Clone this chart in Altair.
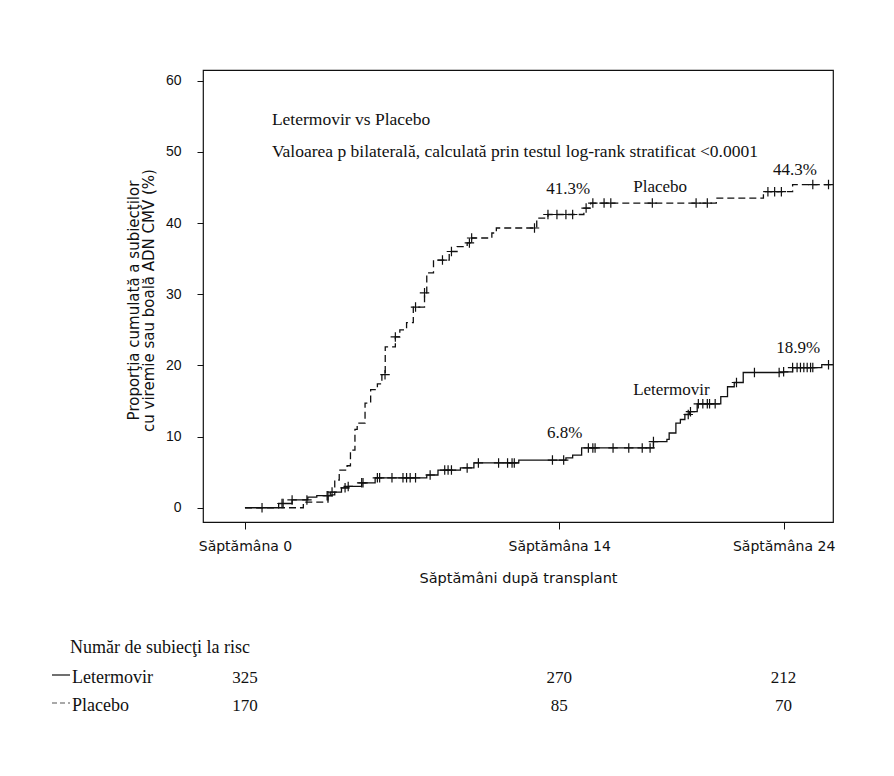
import altair as alt
import pandas as pd

# ---------------- data ----------------
# Letermovir cumulative incidence step curve (weeks after transplant, %)
let_weeks = [0, 1.5, 2.1, 2.8, 3.2, 3.8, 4.3, 4.6, 5.2, 5.8, 8.1, 8.6, 9.6, 10.2,
             12.2, 14.3, 14.6, 15.0, 18.2, 18.8, 18.9, 19.2, 19.4, 19.6, 19.8,
             20.15, 21.2, 21.5, 21.8, 22.2, 24.0, 24.4, 25.7, 26.2]
let_pct = [0, 0.6, 1.1, 1.5, 1.7, 2.2, 2.8, 3.0, 3.5, 4.2, 4.6, 5.3, 5.6, 6.3,
           6.7, 7.0, 7.4, 8.4, 9.3, 9.6, 10.5, 11.9, 12.4, 13.1, 13.5,
           14.6, 15.6, 17.0, 17.6, 19.0, 19.1, 19.7, 20.1, 20.1]

# Placebo cumulative incidence step curve
plc_weeks = [0, 2.6, 3.7, 4.0, 4.2, 4.55, 4.7, 4.9, 5.0, 5.35, 5.6, 5.9, 6.1,
             6.25, 6.7, 6.9, 7.2, 7.5, 8.0, 8.1, 8.4, 9.1, 9.45, 9.9, 10.1,
             11.0, 11.2, 13.0, 13.5, 15.1, 15.4, 21.0, 23.1, 24.4, 26.2]
plc_pct = [0, 0.8, 1.8, 3.9, 5.3, 5.9, 8.1, 11.0, 11.9, 14.7, 16.6, 17.4, 18.7,
           22.6, 24.0, 25.0, 26.0, 28.2, 30.2, 33.0, 34.8, 36.0, 36.7, 37.2, 37.9,
           38.6, 39.3, 40.7, 41.2, 42.1, 42.8, 43.5, 44.4, 45.4, 45.4]

# censoring times (weeks)
let_censor = [0.76, 1.65, 1.7, 2.1, 2.76, 3.66, 3.7, 3.88, 4.46, 4.6, 5.2, 5.26,
              5.9, 6.0, 6.55, 7.04, 7.2, 7.36, 7.6, 8.25, 8.9, 9.05, 9.2, 9.9,
              10.4, 11.3, 11.7, 11.9, 12.0, 13.7, 14.2, 15.3, 15.5, 15.6, 16.4,
              17.1, 17.7, 18.05, 18.2, 19.75, 19.85, 20.2, 20.4, 20.6, 20.7,
              20.95, 21.9, 22.7, 23.8, 24.0, 24.4, 24.6, 24.75, 24.9, 25.05,
              25.2, 25.3, 26.0]
plc_censor = [6.24, 6.7, 7.6, 8.0, 8.8, 9.2, 10.0, 10.1, 12.9, 13.5, 13.9, 14.3,
              14.6, 15.2, 15.5, 16.0, 16.3, 18.15, 20.1, 20.6, 23.3, 23.6, 23.9,
              25.3, 26.0]

# annotations
head_text = ["Letermovir vs Placebo",
             "Valoarea p bilaterală, calculată prin testul log-rank stratificat <0.0001"]
head_x = [1.2, 1.2]
head_y = [54.5, 50.0]

lab_text = ["41.3%", "Placebo", "44.3%", "18.9%", "Letermovir", "6.8%"]
lab_x = [14.4, 18.5, 24.5, 24.65, 19.0, 14.25]
lab_y = [44.8, 45.1, 47.5, 22.5, 16.6, 10.5]

# x ticks and number at risk
tick_weeks = [0, 14, 24]
risk_title = "Număr de subiecţi la risc"
risk_groups = ["Letermovir", "Placebo"]
let_risk = [325, 270, 212]
plc_risk = [170, 85, 70]

y_title = ["Proporţia cumulată a subiecţilor", "cu viremie sau boală ADN CMV (%)"]
x_title = "Săptămâni după transplant"

# ---------------- helpers ----------------
def step_value(xs, ys, t):
    v = ys[0]
    for a, b in zip(xs, ys):
        if a <= t:
            v = b
    return v

let_df = pd.DataFrame({"week": let_weeks, "pct": let_pct})
plc_df = pd.DataFrame({"week": plc_weeks, "pct": plc_pct})
let_c = pd.DataFrame({"week": let_censor,
                      "pct": [step_value(let_weeks, let_pct, t) for t in let_censor]})
plc_c = pd.DataFrame({"week": plc_censor,
                      "pct": [step_value(plc_weeks, plc_pct, t) for t in plc_censor]})
head_df = pd.DataFrame({"t": head_text, "week": head_x, "pct": head_y})
lab_df = pd.DataFrame({"t": lab_text, "week": lab_x, "pct": lab_y})
risk_let_df = pd.DataFrame({"week": tick_weeks, "n": let_risk})
risk_plc_df = pd.DataFrame({"week": tick_weeks, "n": plc_risk})

SANS = "Liberation Sans"
WIDE = "DejaVu Sans"
SERIF = "Liberation Serif"
INK = "#111111"

xscale = alt.Scale(domain=[-1.87, 26.2], nice=False, zero=False)
yscale = alt.Scale(domain=[-2, 61.5], nice=False, zero=False)
XE = alt.X("week:Q", scale=xscale)
YE = alt.Y("pct:Q", scale=yscale)

X = alt.X("week:Q", scale=xscale, axis=alt.Axis(
    values=tick_weeks, labelExpr="'Săptămâna ' + datum.value",
    title=x_title, grid=False, domain=False, tickSize=7, tickColor=INK,
    labelFont=WIDE, labelFontSize=14, labelColor=INK, labelPadding=10,
    labelFlush=False, labelOverlap=False,
    titleFont=WIDE, titleFontSize=14.5, titleFontWeight="normal", titleColor=INK,
    titlePadding=18))
Y = alt.Y("pct:Q", scale=yscale, axis=alt.Axis(
    values=[0, 10, 20, 30, 40, 50, 60], title=y_title, grid=False, domain=False,
    tickSize=6, tickColor=INK, labelFont=SANS, labelFontSize=14, labelColor=INK,
    labelPadding=16, titleFont=WIDE, titleFontSize=15, titleFontWeight="normal",
    titleColor=INK, titleX=-77, titleY=230, titleBaseline="top",
    titleAlign="center", titleLineHeight=15.5))

plus = "M-1,0L1,0M0,-1L0,1"

let_line = alt.Chart(let_df).mark_line(interpolate="step-after", color=INK,
                                       strokeWidth=1.3).encode(x=X, y=Y)
plc_line = alt.Chart(plc_df).mark_line(interpolate="step-after", color=INK,
                                       strokeWidth=1.3, strokeDash=[7, 4]).encode(
    x=XE, y=YE)
let_pts = alt.Chart(let_c).mark_point(shape=plus, size=90, color=INK, filled=False,
                                      strokeWidth=1.2, opacity=1).encode(x=XE, y=YE)
plc_pts = alt.Chart(plc_c).mark_point(shape=plus, size=90, color=INK, filled=False,
                                      strokeWidth=1.2, opacity=1).encode(x=XE, y=YE)

heads = alt.Chart(head_df).mark_text(align="left", baseline="middle", font=SERIF,
                                     fontSize=17.5, color=INK).encode(
    x=XE, y=YE, text="t:N")
labs = alt.Chart(lab_df).mark_text(align="center", baseline="middle", font=SERIF,
                                   fontSize=17, color=INK).encode(
    x=XE, y=YE, text="t:N")

# number-at-risk table under the plot
risk_head = alt.Chart(pd.DataFrame({"t": [risk_title]})).mark_text(
    align="left", baseline="middle", font=SERIF, fontSize=18, color=INK).encode(
    x=alt.value(-133), y=alt.value(578), text="t:N")
risk_name_let = alt.Chart(pd.DataFrame({"t": [risk_groups[0]]})).mark_text(
    align="left", baseline="middle", font=SERIF, fontSize=18, color=INK).encode(
    x=alt.value(-131), y=alt.value(608), text="t:N")
risk_name_plc = alt.Chart(pd.DataFrame({"t": [risk_groups[1]]})).mark_text(
    align="left", baseline="middle", font=SERIF, fontSize=18, color=INK).encode(
    x=alt.value(-131), y=alt.value(636), text="t:N")
risk_let = alt.Chart(risk_let_df).mark_text(
    align="center", baseline="middle", font=SERIF, fontSize=17, color=INK).encode(
    x=XE, y=alt.value(608), text="n:Q")
risk_plc = alt.Chart(risk_plc_df).mark_text(
    align="center", baseline="middle", font=SERIF, fontSize=17, color=INK).encode(
    x=XE, y=alt.value(636), text="n:Q")
leg_solid = alt.Chart(pd.DataFrame({"s": ["Letermovir"]})).mark_rule(
    color=INK, strokeWidth=1.2).encode(
    x=alt.value(-151), x2=alt.value(-133), y=alt.value(605))
leg_dash = alt.Chart(pd.DataFrame({"s": ["Placebo"]})).mark_rule(
    color="#555555", strokeWidth=1.2, strokeDash=[5, 3]).encode(
    x=alt.value(-151), x2=alt.value(-133), y=alt.value(633))

chart = alt.layer(
    let_line, plc_line, let_pts, plc_pts, heads, labs,
    risk_head, risk_name_let, risk_name_plc, risk_let, risk_plc, leg_solid, leg_dash
).properties(
    width=630, height=452,
    autosize=alt.AutoSizeParams(type="none"),
    padding={"left": 203, "top": 70, "right": 61, "bottom": 254},
    background="white",
).configure_view(stroke=INK, strokeWidth=1.2)

chart.save("out.html", embed_options={"renderer": "svg", "actions": False})
